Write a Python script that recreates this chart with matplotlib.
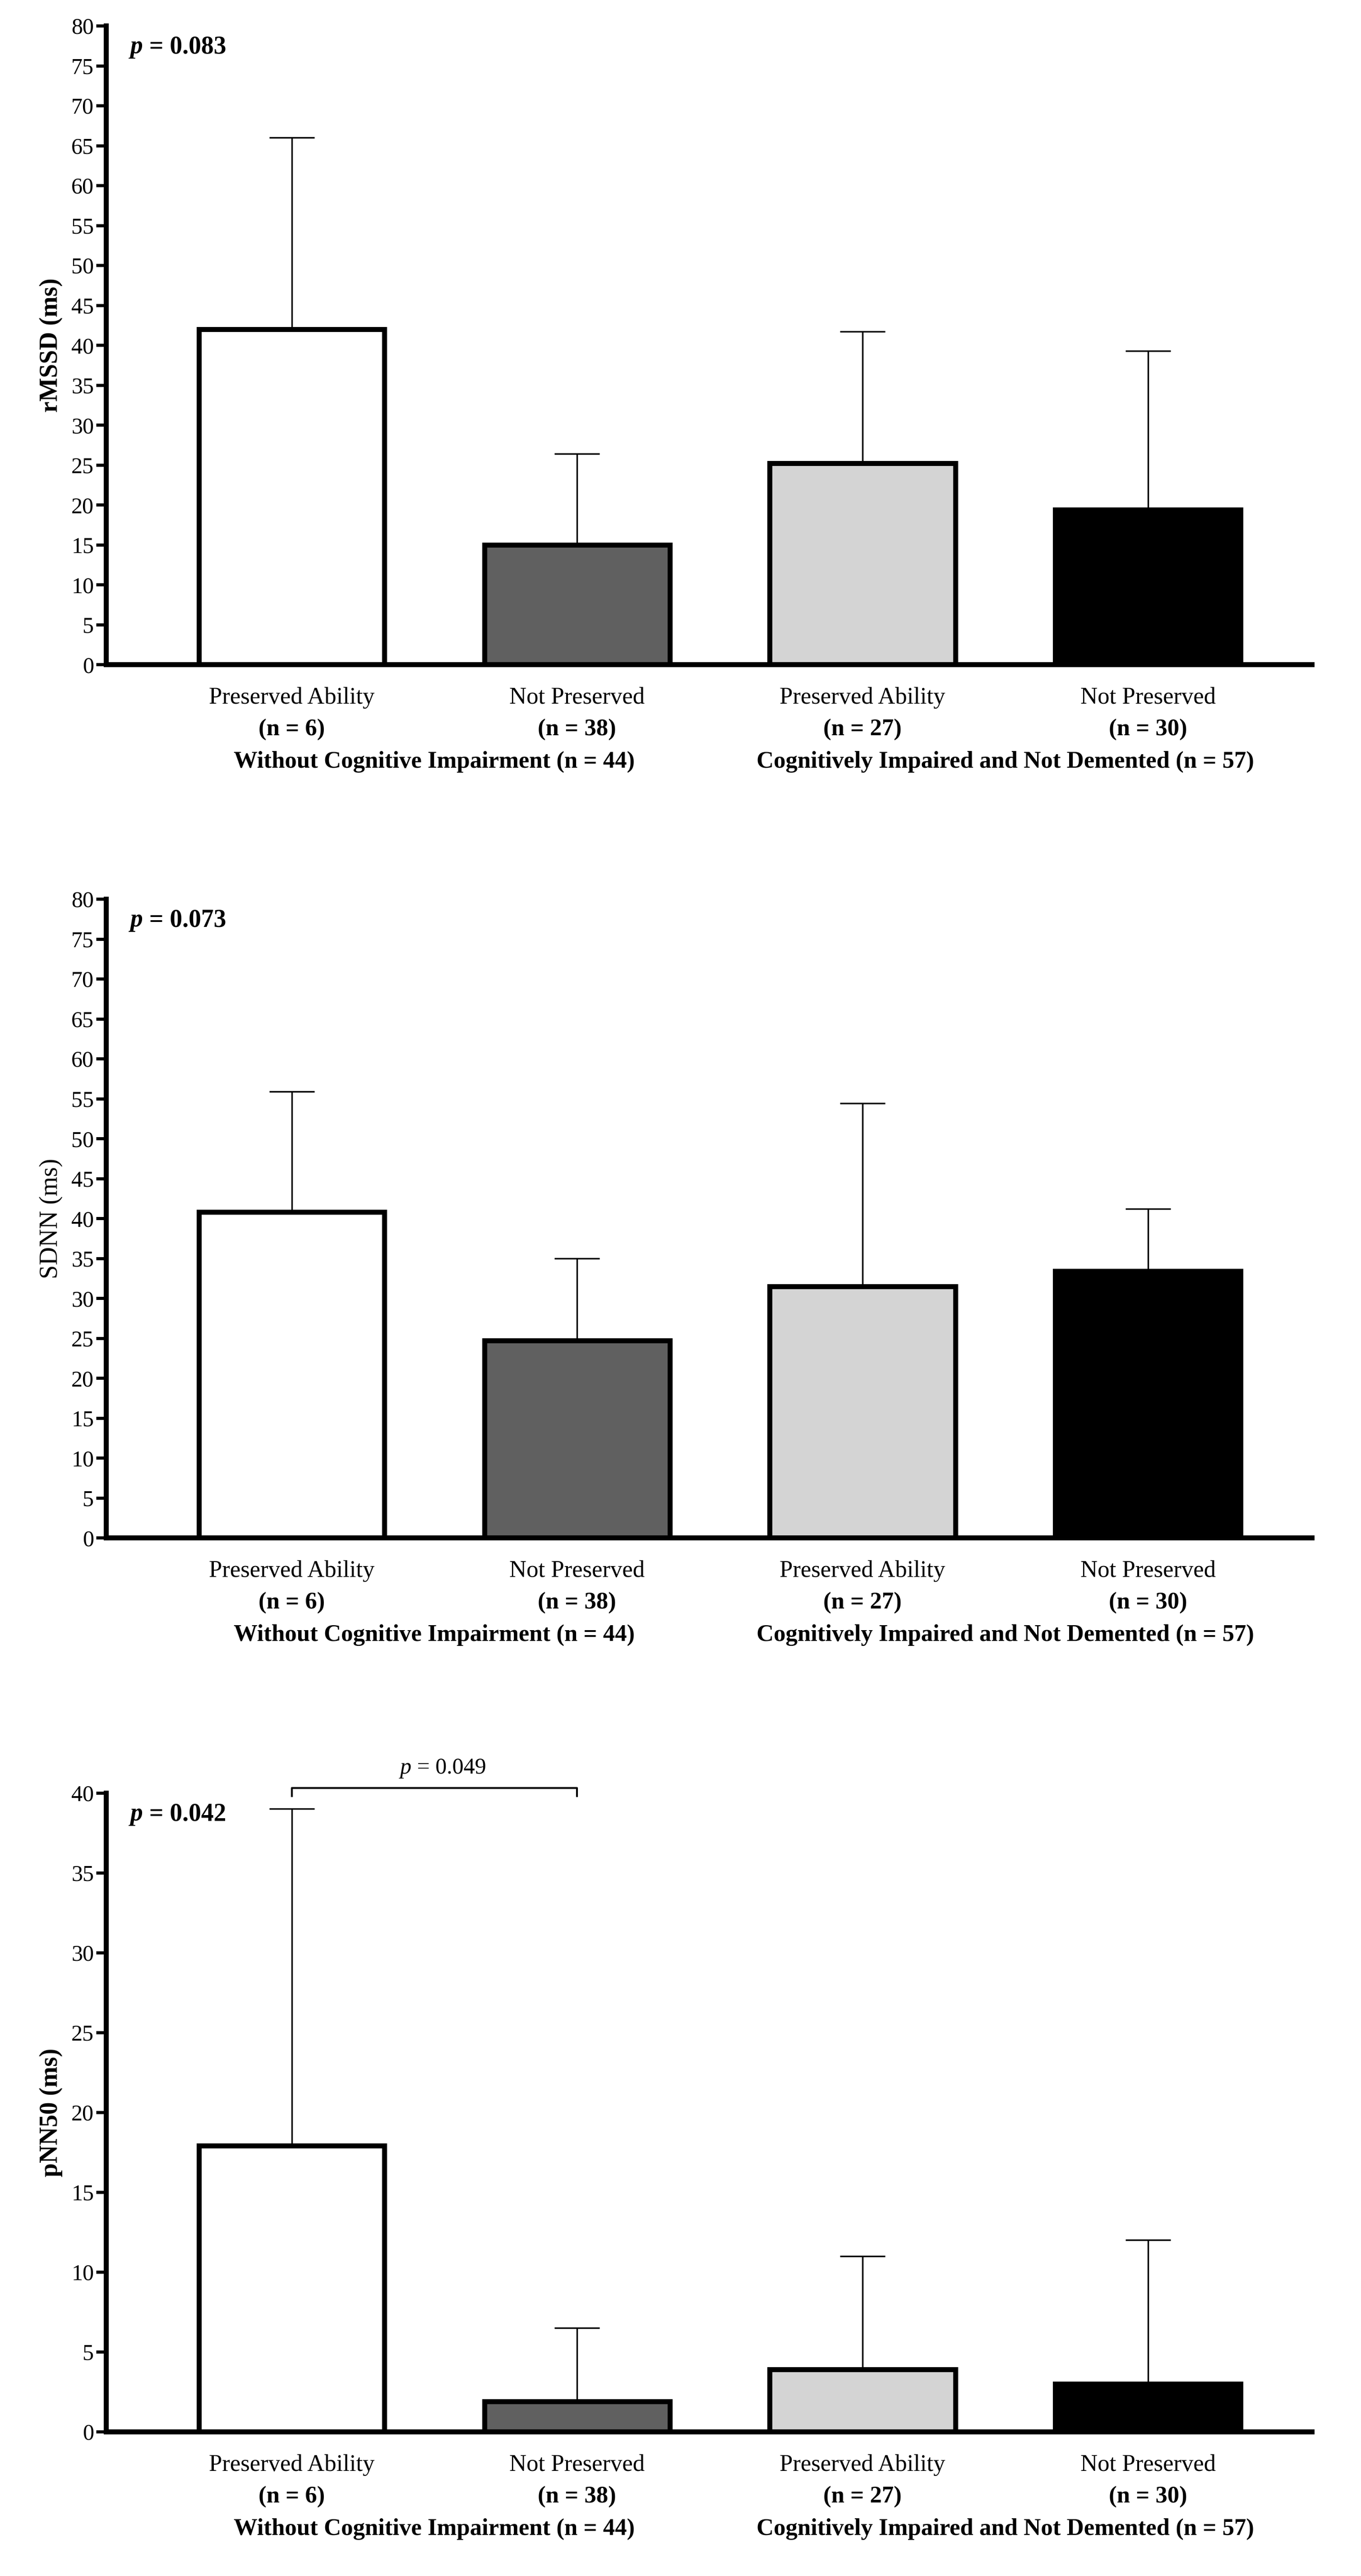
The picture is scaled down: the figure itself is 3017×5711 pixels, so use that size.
import matplotlib
matplotlib.use("Agg")
import matplotlib.pyplot as plt

categories = ["Preserved Ability", "Not Preserved", "Preserved Ability", "Not Preserved"]
ns = ["(n = 6)", "(n = 38)", "(n = 27)", "(n = 30)"]
groups = ["Without Cognitive Impairment (n = 44)", "Cognitively Impaired and Not Demented (n = 57)"]
colors = ["#ffffff", "#606060", "#d4d4d4", "#000000"]

rmssd_mean = [42.0, 15.0, 25.2, 19.4]
rmssd_sd = [24.0, 11.4, 16.5, 19.9]
sdnn_mean = [40.8, 24.7, 31.5, 33.4]
sdnn_sd = [15.1, 10.3, 22.9, 7.8]
pnn50_mean = [17.9, 1.9, 3.9, 3.0]
pnn50_sd = [21.1, 4.6, 7.1, 9.0]

panels = [
    ("rMSSD (ms)", rmssd_mean, rmssd_sd, 80, "0.083", True),
    ("SDNN (ms)", sdnn_mean, sdnn_sd, 80, "0.073", False),
    ("pNN50 (ms)", pnn50_mean, pnn50_sd, 40, "0.042", True),
]
bottoms = [0.742, 0.403, 0.056]

plt.rcParams["font.family"] = "Liberation Serif"
fig = plt.figure(figsize=(30.17, 57.11), dpi=100)
lw = 8
for (ylabel, mean, sd, ymax, pval, boldlab), b in zip(panels, bottoms):
    ax = fig.add_axes([0.078, b, 0.886, 0.248])
    x = list(range(4))
    ax.bar(x, mean, width=0.65, color=colors, edgecolor="black", linewidth=lw, zorder=2)
    ax.errorbar(x, mean, yerr=[[0]*4, sd], fmt="none", ecolor="black", elinewidth=2.5,
                capsize=36, capthick=2.5, zorder=1)
    ax.set_xlim(-0.65, 3.575)
    ax.set_ylim(0, ymax)
    ax.set_yticks(range(0, ymax + 1, 5))
    ax.set_xticks([])
    for s in ["top", "right"]:
        ax.spines[s].set_visible(False)
    for s in ["left", "bottom"]:
        ax.spines[s].set_linewidth(lw)
    ax.tick_params(axis="y", labelsize=36, width=5, length=16)
    ax.set_ylabel(ylabel, fontsize=40, fontweight="bold" if boldlab else "normal", labelpad=14)
    for i in x:
        ax.text(i, -0.035, categories[i], transform=ax.get_xaxis_transform(), ha="center", va="top", fontsize=38)
        ax.text(i, -0.085, ns[i], transform=ax.get_xaxis_transform(), ha="center", va="top", fontsize=38, fontweight="bold")
    ax.text(0.5, -0.135, groups[0], transform=ax.get_xaxis_transform(), ha="center", va="top", fontsize=38, fontweight="bold")
    ax.text(2.5, -0.135, groups[1], transform=ax.get_xaxis_transform(), ha="center", va="top", fontsize=38, fontweight="bold")
    t = ax.text(0.02, 0.985, "p", transform=ax.transAxes, ha="left", va="top", fontsize=40,
                fontweight="bold", fontstyle="italic")
    ax.annotate(" = " + pval, xy=(1, 1), xycoords=t, xytext=(0, 0), textcoords="offset points",
                ha="left", va="top", fontsize=40, fontweight="bold")
    if ymax == 40:
        yb = 40.3
        ax.plot([0, 0, 1, 1], [yb - 0.5, yb, yb, yb - 0.5], color="black", lw=3, clip_on=False)
        t2 = ax.text(0.42, yb + 0.6, "p", ha="right", va="bottom", fontsize=36, fontstyle="italic")
        ax.annotate(" = 0.049", xy=(1, 0), xycoords=t2, ha="left", va="bottom", fontsize=36)

fig.savefig("out.png", dpi=100, facecolor="white")
